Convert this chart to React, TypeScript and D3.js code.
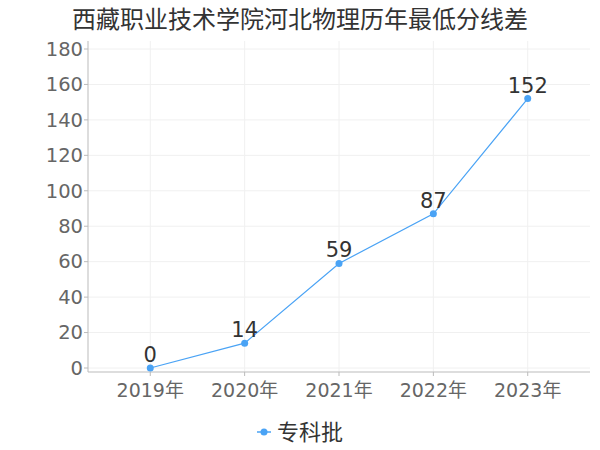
import React from "react";
import * as d3 from "d3";

const categories = ["2019年", "2020年", "2021年", "2022年", "2023年"];
const values = [0, 14, 59, 87, 152];
const yTicks = [0, 20, 40, 60, 80, 100, 120, 140, 160, 180];
const seriesName = "专科批";
const title = "西藏职业技术学院河北物理历年最低分线差";

export default function App() {
  const width = 600;
  const height = 450;
  const left = 88;
  const right = 590;
  const top = 49;
  const bottom = 368;
  const color = "#4aa3f5";
  const font = "'DejaVu Sans', 'Noto Sans CJK SC', sans-serif";

  const x = d3.scalePoint<string>().domain(categories).range([left, right]).padding(0.66);
  const y = d3.scaleLinear().domain([0, 180]).range([bottom, top]);
  const line = d3.line<number>().x((_, i) => x(categories[i]) as number).y(d => y(d));

  return (
    <div style={{ position: "absolute", left: 0, top: 0 }}>
      <svg width={width} height={height} style={{ display: "block", fontFamily: font }}>
        <rect width={width} height={height} fill="#fff" />
        <text x={300} y={28} textAnchor="middle" fontSize={24} fill="#333">{title}</text>
        {yTicks.map(t => (
          <line key={"h" + t} x1={left} x2={right} y1={y(t)} y2={y(t)} stroke="#f0f0f0" />
        ))}
        {categories.map(c => (
          <line key={"v" + c} x1={x(c)} x2={x(c)} y1={top - 8} y2={bottom + 4} stroke="#f0f0f0" />
        ))}
        <line x1={left} x2={left} y1={top - 8} y2={bottom + 4} stroke="#bbb" />
        <line x1={left} x2={right} y1={bottom + 4} y2={bottom + 4} stroke="#bbb" />
        {yTicks.map(t => (
          <g key={"t" + t}>
            <line x1={left - 4} x2={left} y1={y(t)} y2={y(t)} stroke="#bbb" />
            <text x={left - 5} y={y(t)} dy="0.35em" textAnchor="end" fontSize={19.5} fill="#666">{t}</text>
          </g>
        ))}
        {categories.map(c => (
          <g key={"x" + c}>
            <line x1={x(c)} x2={x(c)} y1={bottom + 4} y2={bottom + 8} stroke="#bbb" />
            <text x={x(c)} y={bottom + 29} textAnchor="middle" fontSize={19} fill="#666">{c}</text>
          </g>
        ))}
        <path d={line(values) || ""} fill="none" stroke={color} strokeWidth={1.2} />
        {values.map((v, i) => (
          <g key={"p" + i}>
            <circle cx={x(categories[i])} cy={y(v)} r={3.5} fill={color} />
            <text x={x(categories[i])} y={y(v) - 6} textAnchor="middle" fontSize={21} fill="#333">{v}</text>
          </g>
        ))}
        <line x1={257} x2={271} y1={432} y2={432} stroke={color} strokeWidth={1.5} />
        <circle cx={264} cy={432} r={3.5} fill={color} />
        <text x={277} y={432} dy="0.35em" fontSize={22} fill="#333">{seriesName}</text>
      </svg>
    </div>
  );
}
